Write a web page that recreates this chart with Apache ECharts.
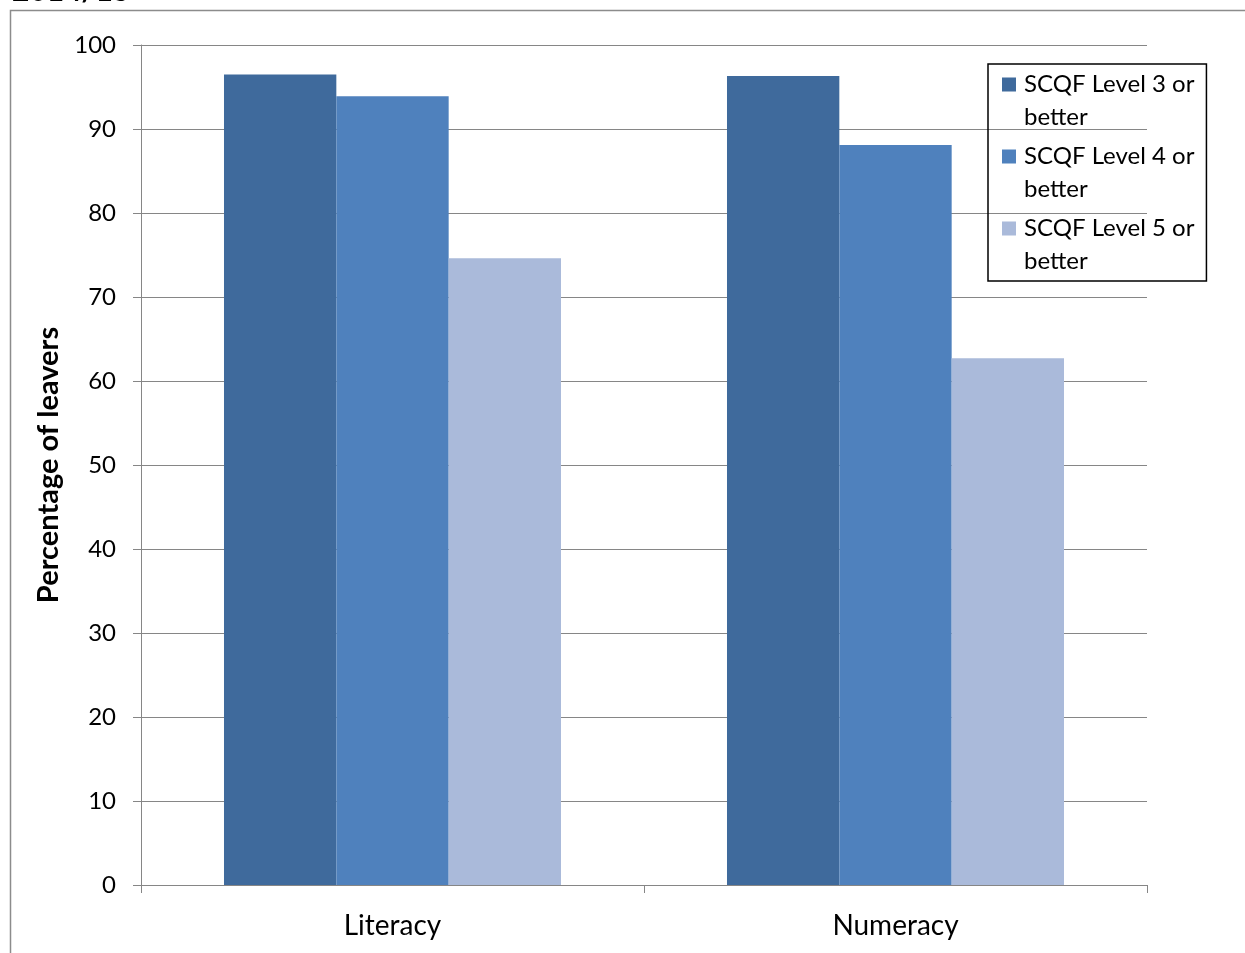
<!DOCTYPE html>
<html>
<head>
<meta charset="utf-8">
<script src="https://cdn.jsdelivr.net/npm/echarts@6/dist/echarts.min.js"></script>
<style>
html,body{margin:0;padding:0;background:#fff;}
#chart{width:1245px;height:953px;}
</style>
</head>
<body>
<div id="chart"></div>
<script>
const categories = ['Literacy', 'Numeracy'];
const seriesNames = ['SCQF Level 3 or better', 'SCQF Level 4 or better', 'SCQF Level 5 or better'];
const level3 = [96.5, 96.3];
const level4 = [93.9, 88.1];
const level5 = [74.6, 62.7];
const colors = ['#3F6A9C', '#4F81BD', '#AABADA'];
const titleText = '2014/15';
const yAxisName = 'Percentage of leavers';

const FONT = 'Lato';
const chart = echarts.init(document.getElementById('chart'));
const legendIcon = 'path://M0,0H14V14H0Z M17,47H17.01V47.01H17Z';
const values = [level3, level4, level5];

chart.setOption({
  animation: false,
  graphic: [
    {type: 'rect', shape: {x: 10.5, y: 10.5, width: 1400, height: 1100}, style: {fill: 'none', stroke: '#8c8c8c', lineWidth: 1.5}, z: -1},
    {type: 'text', x: 12, y: -9, style: {text: titleText, font: 'bold 30px ' + FONT, fill: '#000', verticalAlign: 'middle'}}
  ],
  grid: {left: 141, top: 45, right: 98, bottom: 68, containLabel: false},
  legend: {
    orient: 'vertical',
    left: 988,
    top: 64,
    padding: [4, 12, 3, 14],
    itemWidth: 17,
    itemHeight: 47,
    itemGap: 6,
    icon: legendIcon,
    borderColor: '#000',
    borderWidth: 1.5,
    data: seriesNames,
    formatter: function (name) { return name.replace(' better', '\nbetter'); },
    textStyle: {fontFamily: FONT, fontSize: 24, color: '#000', lineHeight: 33}
  },
  xAxis: {
    type: 'category',
    data: categories,
    axisLine: {lineStyle: {color: '#868686', width: 1}},
    axisTick: {show: true, length: 8, lineStyle: {color: '#868686'}},
    axisLabel: {fontFamily: FONT, fontSize: 28, color: '#000', margin: 27}
  },
  yAxis: {
    type: 'value',
    min: 0, max: 100, interval: 10,
    name: yAxisName,
    nameLocation: 'middle',
    nameGap: 76,
    nameTextStyle: {fontFamily: FONT, fontSize: 29, fontWeight: 'bold', color: '#000'},
    axisLine: {show: true, lineStyle: {color: '#868686', width: 1}},
    axisTick: {show: true, length: 8, lineStyle: {color: '#868686'}},
    axisLabel: {fontFamily: FONT, fontSize: 24, color: '#000', margin: 25},
    splitLine: {show: true, lineStyle: {color: '#868686', width: 1}}
  },
  series: seriesNames.map((n, i) => ({
    name: n,
    type: 'bar',
    data: values[i],
    barGap: '0%',
    barCategoryGap: '33%',
    itemStyle: {color: colors[i]}
  }))
});
</script>
</body>
</html>
